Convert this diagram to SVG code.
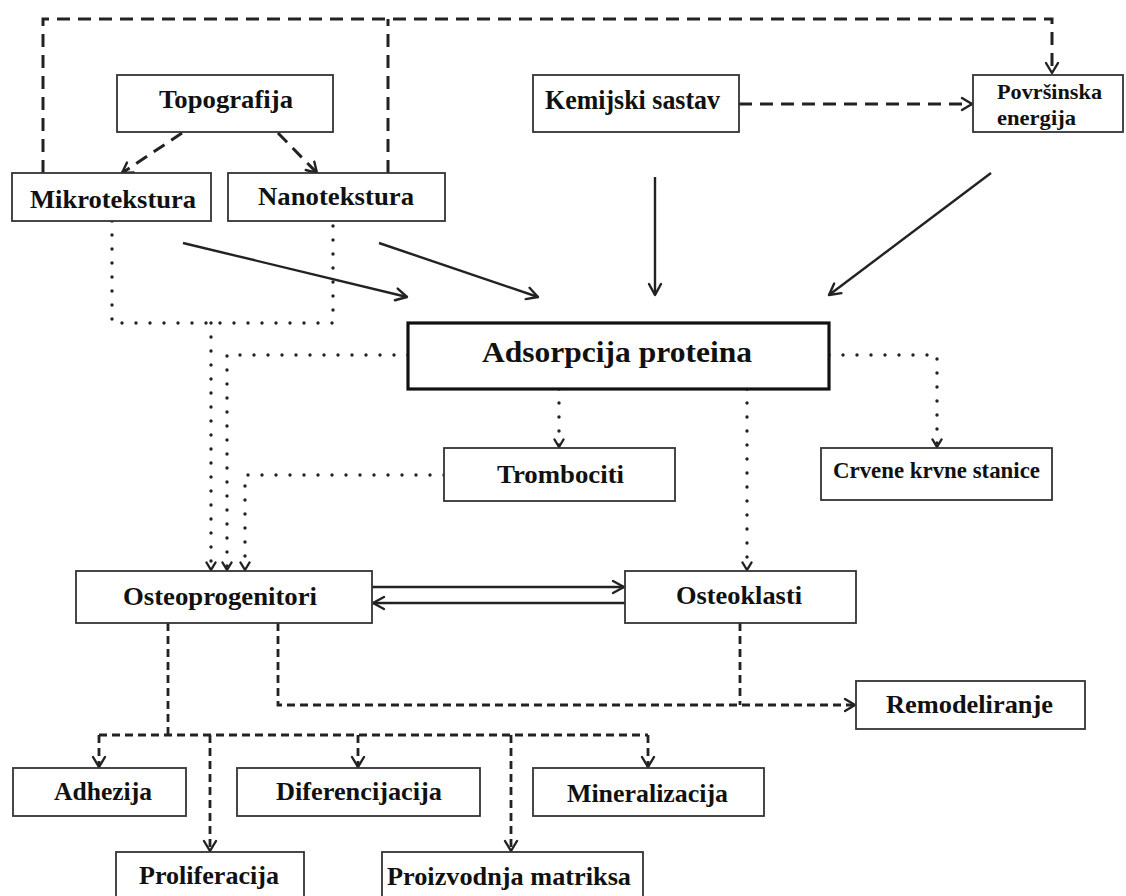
<svg xmlns="http://www.w3.org/2000/svg" width="1126" height="896" viewBox="0 0 1126 896">
<style>
  .box{fill:#fff;stroke:#333;stroke-width:1.8}
  .boxb{fill:#fff;stroke:#111;stroke-width:3.2}
  .t{font-family:"Liberation Serif","Times New Roman",serif;font-weight:bold;font-size:26px;fill:#111}
  .c{fill:none;stroke:#222;stroke-width:2.4}
  .dl{fill:none;stroke:#222;stroke-width:3;stroke-dasharray:13 8}
  .ds{fill:none;stroke:#222;stroke-width:2.8;stroke-dasharray:8 5}
  .dt{fill:none;stroke:#222;stroke-width:3.4;stroke-dasharray:0 14;stroke-linecap:round}
  .m{fill:none;stroke:#222;stroke-width:2.4;stroke-linecap:round;stroke-linejoin:round}
</style>
<defs>
  <marker id="aS" markerUnits="userSpaceOnUse" markerWidth="16" markerHeight="16" refX="13" refY="8" orient="auto">
    <path class="m" d="M2,2 L13,8 L2,14"/>
  </marker>
  <marker id="aD" markerUnits="userSpaceOnUse" markerWidth="16" markerHeight="16" refX="12" refY="8" orient="auto">
    <path class="m" d="M2,2 L12,8 L2,14"/>
  </marker>
  <marker id="aT" markerUnits="userSpaceOnUse" markerWidth="12" markerHeight="12" refX="9" refY="6" orient="auto">
    <path class="m" d="M1.5,1.5 L9,6 L1.5,10.5"/>
  </marker>
</defs>
<rect width="1126" height="896" fill="#fff"/>

<g id="connectors">
  <path class="dl" d="M43,173 V19 H1052 V73" marker-end="url(#aD)"/>
  <path class="dl" d="M388,173 V19"/>
  <path class="dl" d="M182,133 L122,173" marker-end="url(#aD)"/>
  <path class="dl" d="M278,133 L317,173" marker-end="url(#aD)"/>
  <path class="dl" d="M739,104 H972" marker-end="url(#aD)"/>
  <path class="c" d="M655,177 V295" marker-end="url(#aS)"/>
  <path class="c" d="M991,173 L829,295" marker-end="url(#aS)"/>
  <path class="c" d="M183,243 L407,297" marker-end="url(#aS)"/>
  <path class="c" d="M379,243 L538,297" marker-end="url(#aS)"/>
  <path class="c" d="M372,587 H624" marker-end="url(#aS)"/>
  <path class="c" d="M625,603 H373" marker-end="url(#aS)"/>
  <path class="dt" d="M112,221 V323 H333 V221"/>
  <path class="dt" d="M211,323 V570" marker-end="url(#aT)"/>
  <path class="dt" d="M408,355 H227 V570" marker-end="url(#aT)"/>
  <path class="dt" d="M444,475 H245 V570" marker-end="url(#aT)"/>
  <path class="dt" d="M559,389 V447" marker-end="url(#aT)"/>
  <path class="dt" d="M747,389 V570" marker-end="url(#aT)"/>
  <path class="dt" d="M829,355 H937 V447" marker-end="url(#aT)"/>
  <path class="ds" d="M168,623 V735"/>
  <path class="ds" d="M99,735 H648"/>
  <path class="ds" d="M99,735 V767" marker-end="url(#aD)"/>
  <path class="ds" d="M210,735 V851" marker-end="url(#aD)"/>
  <path class="ds" d="M358,735 V767" marker-end="url(#aD)"/>
  <path class="ds" d="M511,735 V851" marker-end="url(#aD)"/>
  <path class="ds" d="M648,735 V767" marker-end="url(#aD)"/>
  <path class="ds" d="M278,623 V705 H855" marker-end="url(#aD)"/>
  <path class="ds" d="M740,623 V705"/>
</g>

<g id="topografija">
  <rect class="box" x="117" y="75" width="216" height="57"/>
  <text class="t" x="159" y="108" textLength="134" lengthAdjust="spacingAndGlyphs">Topografija</text>
</g>
<g id="mikrotekstura">
  <rect class="box" x="12" y="173" width="199" height="48"/>
  <text class="t" x="30" y="208" textLength="166" lengthAdjust="spacingAndGlyphs">Mikrotekstura</text>
</g>
<g id="nanotekstura">
  <rect class="box" x="228" y="173" width="217" height="48"/>
  <text class="t" x="258" y="205" textLength="156" lengthAdjust="spacingAndGlyphs">Nanotekstura</text>
</g>
<g id="kemijski">
  <rect class="box" x="533" y="75" width="206" height="57"/>
  <text class="t" x="545" y="109" style="font-size:28px" textLength="175" lengthAdjust="spacingAndGlyphs">Kemijski sastav</text>
</g>
<g id="povrsinska">
  <rect class="box" x="973" y="75" width="150" height="57"/>
  <text class="t" x="997" y="99" style="font-size:21px" textLength="105" lengthAdjust="spacingAndGlyphs">Površinska</text>
  <text class="t" x="997" y="125" style="font-size:21px" textLength="79" lengthAdjust="spacingAndGlyphs">energija</text>
</g>
<g id="adsorpcija">
  <rect class="boxb" x="408" y="323" width="421" height="66"/>
  <text class="t" x="482" y="362" style="font-size:30px" textLength="270" lengthAdjust="spacingAndGlyphs">Adsorpcija proteina</text>
</g>
<g id="trombociti">
  <rect class="box" x="444" y="448" width="231" height="53"/>
  <text class="t" x="497" y="483" textLength="127" lengthAdjust="spacingAndGlyphs">Trombociti</text>
</g>
<g id="crvene">
  <rect class="box" x="821" y="448" width="231" height="52"/>
  <text class="t" x="833" y="478" style="font-size:23px" textLength="207" lengthAdjust="spacingAndGlyphs">Crvene krvne stanice</text>
</g>
<g id="osteoprogenitori">
  <rect class="box" x="76" y="571" width="296" height="52"/>
  <text class="t" x="123" y="605" textLength="194" lengthAdjust="spacingAndGlyphs">Osteoprogenitori</text>
</g>
<g id="osteoklasti">
  <rect class="box" x="625" y="571" width="231" height="52"/>
  <text class="t" x="676" y="604" textLength="126" lengthAdjust="spacingAndGlyphs">Osteoklasti</text>
</g>
<g id="remodeliranje">
  <rect class="box" x="856" y="681" width="229" height="48"/>
  <text class="t" x="886" y="713" textLength="167" lengthAdjust="spacingAndGlyphs">Remodeliranje</text>
</g>
<g id="adhezija">
  <rect class="box" x="13" y="768" width="173" height="48"/>
  <text class="t" x="54" y="800" textLength="98" lengthAdjust="spacingAndGlyphs">Adhezija</text>
</g>
<g id="diferencijacija">
  <rect class="box" x="237" y="768" width="243" height="48"/>
  <text class="t" x="276" y="800" textLength="166" lengthAdjust="spacingAndGlyphs">Diferencijacija</text>
</g>
<g id="mineralizacija">
  <rect class="box" x="533" y="768" width="231" height="48"/>
  <text class="t" x="567" y="802" textLength="161" lengthAdjust="spacingAndGlyphs">Mineralizacija</text>
</g>
<g id="proliferacija">
  <rect class="box" x="116" y="852" width="188" height="60"/>
  <text class="t" x="139" y="884" textLength="140" lengthAdjust="spacingAndGlyphs">Proliferacija</text>
</g>
<g id="proizvodnja">
  <rect class="box" x="382" y="852" width="261" height="60"/>
  <text class="t" x="387" y="885" textLength="244" lengthAdjust="spacingAndGlyphs">Proizvodnja matriksa</text>
</g>
</svg>
